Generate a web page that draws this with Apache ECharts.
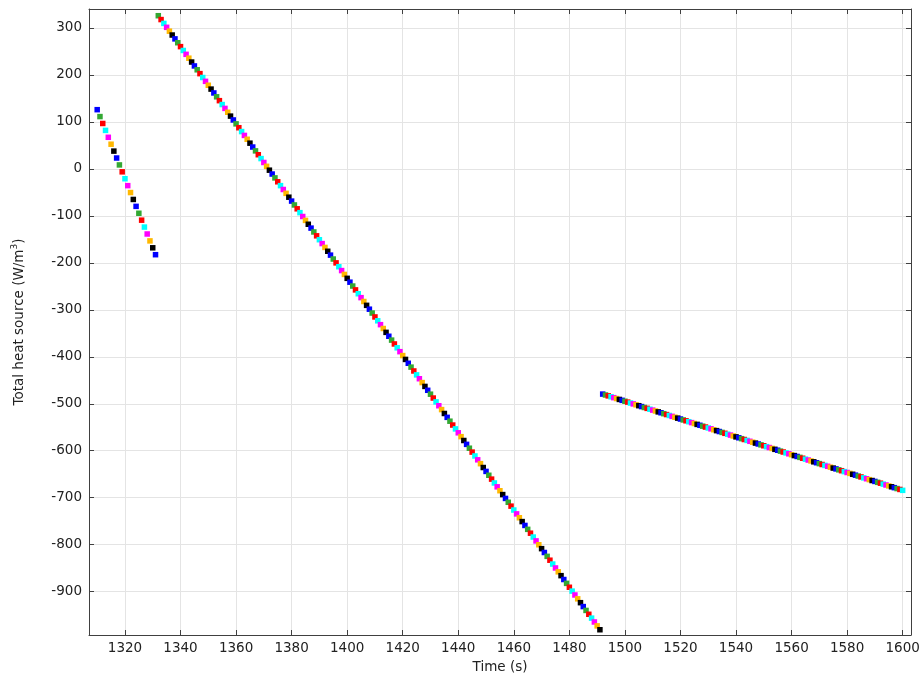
<!DOCTYPE html>
<html>
<head>
<meta charset="utf-8">
<title>Total heat source vs time</title>
<script src="https://cdn.jsdelivr.net/npm/echarts@6/dist/echarts.min.js"></script>
<style>
  html, body { margin: 0; padding: 0; background: #ffffff; }
  #chart { width: 923px; height: 679px; }
</style>
</head>
<body>
<div id="chart"></div>
<script>
// Sampled output, one point per second, in three time windows.
const time1 = [1310,1311,1312,1313,1314,1315,1316,1317,1318,1319,1320,1321,1322,1323,1324,1325,1326,1327,1328,1329,1330,1331];
const heat1 = [126.0,111.3,96.6,81.9,67.2,52.5,37.8,23.1,8.4,-6.3,-21.0,-35.7,-50.4,-65.1,-79.8,-94.5,-109.2,-123.9,-138.6,-153.3,-168.0,-182.7];

const time2 = [1332,1333,1334,1335,1336,1337,1338,1339,1340,1341,1342,1343,1344,1345,1346,1347,1348,1349,1350,1351,
  1352,1353,1354,1355,1356,1357,1358,1359,1360,1361,1362,1363,1364,1365,1366,1367,1368,1369,1370,1371,
  1372,1373,1374,1375,1376,1377,1378,1379,1380,1381,1382,1383,1384,1385,1386,1387,1388,1389,1390,1391,
  1392,1393,1394,1395,1396,1397,1398,1399,1400,1401,1402,1403,1404,1405,1406,1407,1408,1409,1410,1411,
  1412,1413,1414,1415,1416,1417,1418,1419,1420,1421,1422,1423,1424,1425,1426,1427,1428,1429,1430,1431,
  1432,1433,1434,1435,1436,1437,1438,1439,1440,1441,1442,1443,1444,1445,1446,1447,1448,1449,1450,1451,
  1452,1453,1454,1455,1456,1457,1458,1459,1460,1461,1462,1463,1464,1465,1466,1467,1468,1469,1470,1471,
  1472,1473,1474,1475,1476,1477,1478,1479,1480,1481,1482,1483,1484,1485,1486,1487,1488,1489,1490,1491];
const heat2 = [326.0,317.8,309.6,301.3,293.1,284.9,276.7,268.5,260.2,252.0,243.8,235.6,227.4,219.1,210.9,202.7,194.5,186.3,178.0,169.8,
  161.6,153.4,145.2,136.9,128.7,120.5,112.3,104.1,95.8,87.6,79.4,71.2,63.0,54.7,46.5,38.3,30.1,21.9,13.6,5.4,
  -2.8,-11.0,-19.2,-27.5,-35.7,-43.9,-52.1,-60.3,-68.6,-76.8,-85.0,-93.2,-101.4,-109.7,-117.9,-126.1,-134.3,-142.5,-150.8,-159.0,
  -167.2,-175.4,-183.6,-191.9,-200.1,-208.3,-216.5,-224.7,-233.0,-241.2,-249.4,-257.6,-265.8,-274.1,-282.3,-290.5,-298.7,-306.9,-315.2,-323.4,
  -331.6,-339.8,-348.0,-356.3,-364.5,-372.7,-380.9,-389.1,-397.4,-405.6,-413.8,-422.0,-430.2,-438.5,-446.7,-454.9,-463.1,-471.3,-479.6,-487.8,
  -496.0,-504.2,-512.4,-520.7,-528.9,-537.1,-545.3,-553.5,-561.8,-570.0,-578.2,-586.4,-594.6,-602.9,-611.1,-619.3,-627.5,-635.7,-644.0,-652.2,
  -660.4,-668.6,-676.8,-685.1,-693.3,-701.5,-709.7,-717.9,-726.2,-734.4,-742.6,-750.8,-759.0,-767.3,-775.5,-783.7,-791.9,-800.1,-808.4,-816.6,
  -824.8,-833.0,-841.2,-849.5,-857.7,-865.9,-874.1,-882.3,-890.6,-898.8,-907.0,-915.2,-923.4,-931.7,-939.9,-948.1,-956.3,-964.5,-972.8,-981.0];

const time3 = [1492,1493,1494,1495,1496,1497,1498,1499,1500,1501,1502,1503,1504,1505,1506,1507,1508,1509,1510,1511,
  1512,1513,1514,1515,1516,1517,1518,1519,1520,1521,1522,1523,1524,1525,1526,1527,1528,1529,1530,1531,
  1532,1533,1534,1535,1536,1537,1538,1539,1540,1541,1542,1543,1544,1545,1546,1547,1548,1549,1550,1551,
  1552,1553,1554,1555,1556,1557,1558,1559,1560,1561,1562,1563,1564,1565,1566,1567,1568,1569,1570,1571,
  1572,1573,1574,1575,1576,1577,1578,1579,1580,1581,1582,1583,1584,1585,1586,1587,1588,1589,1590,1591,
  1592,1593,1594,1595,1596,1597,1598,1599,1600];
const heat3 = [-479.4,-481.3,-483.2,-485.1,-487.0,-488.9,-490.8,-492.7,-494.6,-496.5,-498.4,-500.3,-502.2,-504.1,-506.0,-507.9,-509.8,-511.6,-513.5,-515.4,
  -517.3,-519.2,-521.1,-523.0,-524.9,-526.8,-528.7,-530.6,-532.5,-534.4,-536.3,-538.2,-540.1,-542.0,-543.9,-545.8,-547.7,-549.6,-551.5,-553.4,
  -555.3,-557.2,-559.1,-561.0,-562.9,-564.8,-566.7,-568.6,-570.5,-572.4,-574.3,-576.1,-578.0,-579.9,-581.8,-583.7,-585.6,-587.5,-589.4,-591.3,
  -593.2,-595.1,-597.0,-598.9,-600.8,-602.7,-604.6,-606.5,-608.4,-610.3,-612.2,-614.1,-616.0,-617.9,-619.8,-621.7,-623.6,-625.5,-627.4,-629.3,
  -631.2,-633.1,-635.0,-636.9,-638.7,-640.6,-642.5,-644.4,-646.3,-648.2,-650.1,-652.0,-653.9,-655.8,-657.7,-659.6,-661.5,-663.4,-665.3,-667.2,
  -669.1,-671.0,-672.9,-674.8,-676.7,-678.6,-680.5,-682.4,-684.3];

// Marker colours cycle point by point through the whole record.
const palette = ['#0000ff', '#33a833', '#ff0000', '#00ffff', '#ff00ff', '#ffb800', '#000000'];

const X_MIN = 1307.05, X_MAX = 1603.0;
const Y_MIN = -992.2, Y_MAX = 340.3;

const FONT = 'DejaVu Sans';
const AXIS_COLOR = '#404040';
const LABEL_COLOR = '#222222';
const GRID_COLOR = '#e4e4e4';

function pair(ts, vs) { return ts.map((t, i) => [t, vs[i]]); }
const plain = v => String(v);

const segments = [pair(time1, heat1), pair(time2, heat2), pair(time3, heat3)];
let offset = 0;
const series = segments.map(seg => {
  const start = offset;
  offset += seg.length;
  return {
    type: 'scatter',
    xAxisIndex: 0,
    yAxisIndex: 0,
    symbol: 'rect',
    symbolSize: 5.5,
    data: seg,
    itemStyle: {
      opacity: 1,
      color: p => palette[(start + p.dataIndex) % palette.length]
    },
    emphasis: { disabled: true },
    silent: true
  };
});

function frameAxis(extra) {
  return Object.assign({
    type: 'value',
    axisLine: { show: true, onZero: false, lineStyle: { color: AXIS_COLOR, width: 1 } },
    axisTick: { show: true, inside: true, length: 5, lineStyle: { color: AXIS_COLOR, width: 1 } },
    minorTick: { show: false },
    axisLabel: { show: false },
    splitLine: { show: false }
  }, extra);
}

const chart = echarts.init(document.getElementById('chart'), null, { renderer: 'canvas' });
chart.setOption({
  animation: false,
  backgroundColor: '#ffffff',
  grid: { left: 89, right: 12, top: 9, bottom: 41 },
  xAxis: [
    frameAxis({
      position: 'bottom',
      min: X_MIN, max: X_MAX, splitNumber: 15,
      name: 'Time (s)',
      nameLocation: 'middle',
      nameGap: 25,
      nameTextStyle: { fontFamily: FONT, fontSize: 13.5, color: LABEL_COLOR },
      axisLabel: {
        show: true, margin: 6, fontFamily: FONT, fontSize: 13.5, color: LABEL_COLOR,
        showMinLabel: false, showMaxLabel: false, formatter: plain
      },
      splitLine: { show: true, lineStyle: { color: GRID_COLOR, width: 1 } }
    }),
    frameAxis({ position: 'top', min: X_MIN, max: X_MAX, splitNumber: 15 })
  ],
  yAxis: [
    frameAxis({
      position: 'left',
      min: Y_MIN, max: Y_MAX, splitNumber: 13,
      name: 'Total heat source (W/m{sup|3})',
      nameLocation: 'middle',
      nameGap: 61,
      nameTextStyle: {
        fontFamily: FONT, fontSize: 13.5, color: LABEL_COLOR, lineHeight: 18,
        rich: { sup: { fontFamily: FONT, fontSize: 9, color: LABEL_COLOR, verticalAlign: 'top', lineHeight: 18, padding: [0, 0, 6, 0] } }
      },
      axisLabel: {
        show: true, margin: 7, fontFamily: FONT, fontSize: 13.5, color: LABEL_COLOR,
        showMinLabel: false, showMaxLabel: false, formatter: plain
      },
      splitLine: { show: true, lineStyle: { color: GRID_COLOR, width: 1 } }
    }),
    frameAxis({ position: 'right', min: Y_MIN, max: Y_MAX, splitNumber: 13 })
  ],
  series: series
});
</script>
</body>
</html>
